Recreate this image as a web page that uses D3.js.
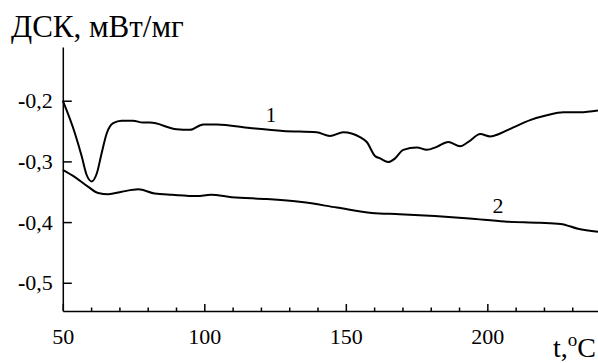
<!DOCTYPE html>
<html>
<head>
<meta charset="utf-8">
<script src="https://cdn.jsdelivr.net/npm/d3@7"></script>
<style>
  body { margin: 0; background: #fff; }
  svg { display: block; }
  svg text { font-family: "Liberation Serif", "Times New Roman", "DejaVu Serif", serif !important; }
</style>
</head>
<body>
<svg id="chart" width="598" height="363"></svg>
<script>
// curve 1
var temp1 = [50, 54.3, 56.7, 58.4, 60.2, 62.0, 63.7, 65.5, 67.8, 70.8, 74.8, 78.3, 80.8, 90.2, 94.9, 99.6, 104.4, 116.1, 127.8, 139.7, 144.4, 149.1, 155.0, 157.4, 160.3, 162.1, 165.0, 167.4, 170.3, 175.1, 178.6, 182.1, 186.2, 190.4, 193.3, 197.5, 201.0, 204.5, 209.2, 215.1, 221.0, 226.9, 232.8, 239.1];
var dsc1 = [-0.2, -0.254, -0.292, -0.322, -0.333, -0.320, -0.287, -0.254, -0.237, -0.233, -0.233, -0.236, -0.236, -0.247, -0.248, -0.239, -0.239, -0.245, -0.250, -0.252, -0.258, -0.252, -0.260, -0.268, -0.291, -0.295, -0.301, -0.295, -0.281, -0.277, -0.281, -0.276, -0.268, -0.275, -0.268, -0.255, -0.259, -0.254, -0.244, -0.232, -0.224, -0.219, -0.219, -0.216];
// curve 2
var temp2 = [50, 54.3, 59.0, 62.5, 66.1, 70.8, 76.7, 82.5, 88.7, 97.4, 102.3, 109.7, 122.1, 134.4, 146.8, 159.2, 169.0, 181.4, 193.7, 206.1, 218.4, 225.9, 232.0, 239.1];
var dsc2 = [-0.314, -0.326, -0.342, -0.352, -0.354, -0.350, -0.346, -0.353, -0.355, -0.357, -0.355, -0.359, -0.362, -0.367, -0.376, -0.385, -0.387, -0.390, -0.394, -0.399, -0.401, -0.403, -0.411, -0.416];

var yTicks = [-0.2, -0.3, -0.4, -0.5];
var xMajor = [50, 100, 150, 200];
var xMinor = [60, 70, 80, 90, 110, 120, 130, 140, 160, 170, 180, 190, 210, 220, 230];

var svg = d3.select("#chart");

var x = d3.scaleLinear().domain([50, 239.1]).range([62.8, 598]);
var y = d3.scaleLinear().domain([-0.5465, -0.1115]).range([311, 47]);

// y axis
var gy = svg.append("g")
    .attr("transform", "translate(62.8,0)")
    .call(d3.axisLeft(y).tickValues(yTicks).tickSize(-9).tickSizeOuter(0).tickPadding(10).tickFormat(""));

gy.selectAll(".tick").each(function (d) {
    var t = d3.select(this).select("text");
    t.append("tspan").attr("font-weight", "bold").text("-");
    t.append("tspan").text(d3.format(".1f")(Math.abs(d)).replace(".", ","));
});

// x axis, minor ticks
svg.append("g")
    .attr("transform", "translate(0,311)")
    .call(d3.axisBottom(x).tickValues(xMinor).tickSize(-3.5).tickSizeOuter(0).tickFormat(""))
    .select(".domain").remove();

var gx = svg.append("g")
    .attr("transform", "translate(0,311)")
    .call(d3.axisBottom(x).tickValues(xMajor).tickSize(-7).tickSizeOuter(0).tickPadding(17));

svg.selectAll("g").attr("font-family", null);
svg.selectAll(".domain, .tick line").attr("stroke", "#000").attr("stroke-width", 1.5);
svg.selectAll(".tick text").attr("font-size", 22).attr("fill", "#000");

var line = d3.line()
    .x(function (d) { return x(d[0]); })
    .y(function (d) { return y(d[1]); })
    .curve(d3.curveMonotoneX);

svg.append("path")
    .datum(d3.zip(temp1, dsc1))
    .attr("d", line)
    .attr("fill", "none")
    .attr("stroke", "#000")
    .attr("stroke-width", 2);

svg.append("path")
    .datum(d3.zip(temp2, dsc2))
    .attr("d", line)
    .attr("fill", "none")
    .attr("stroke", "#000")
    .attr("stroke-width", 2);

// curve labels
svg.append("text").attr("x", 271).attr("y", 122).attr("text-anchor", "middle")
    .attr("font-size", 21).text("1");
svg.append("text").attr("x", 498).attr("y", 213).attr("text-anchor", "middle")
    .attr("font-size", 22).text("2");

// axis titles
svg.append("text").attr("x", 11).attr("y", 37)
    .attr("font-size", 31).text("ДСК, мВт/мг");

var tl = svg.append("text").attr("x", 596).attr("y", 357).attr("text-anchor", "end")
    .attr("font-size", 28);
tl.append("tspan").text("t,");
tl.append("tspan").attr("dy", -11).attr("font-size", 19).text("o");
tl.append("tspan").attr("dy", 11).text("C");
</script>
</body>
</html>
